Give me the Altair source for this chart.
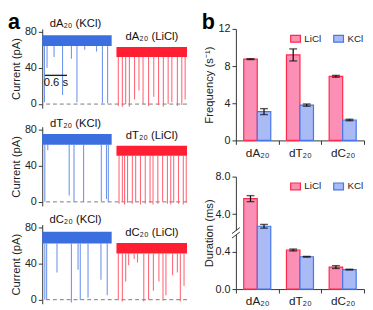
import altair as alt
import pandas as pd

FONT = "Liberation Sans"

# ---------------- panel a : current traces ----------------
X_MAX = 3.92                      # seconds shown
kcl_span = [0.0, 1.88]
licl_span = [2.01, 3.92]
trace_names = ["dA₂₀", "dT₂₀", "dC₂₀"]
kcl_low = [64, 63, 62]
kcl_high = [76, 75, 75]
licl_low = [52, 51, 51]
licl_high = [63, 62, 62.5]

kcl_event_t = [
    [0.06, 0.13, 0.32, 0.55, 0.79, 0.94, 1.15, 1.47, 1.63, 1.77],
    [0.07, 0.15, 0.73, 0.86, 1.12, 1.60, 1.74, 1.79],
    [0.07, 0.12, 0.40, 0.79, 0.97, 1.03, 1.24, 1.59, 1.76],
]
kcl_event_i = [
    [2, 40, 52, 10, 50, 2, 60, 58, 1, 1],
    [0, 57, 7, 0, 0, 1, 3, 0],
    [0, 0, 30, -3, 33, 0, 2, 22, 5],
]
licl_event_t = [
    [2.06, 2.17, 2.26, 2.36, 2.50, 2.62, 2.73, 2.88, 3.02, 3.15, 3.28, 3.41, 3.51, 3.66, 3.78, 3.87],
    [2.08, 2.17, 2.23, 2.31, 2.44, 2.53, 2.66, 2.79, 2.92, 3.00, 3.13, 3.26, 3.39, 3.48, 3.56, 3.69, 3.82, 3.90],
    [2.06, 2.17, 2.26, 2.34, 2.49, 2.58, 2.75, 2.88, 3.01, 3.16, 3.27, 3.35, 3.53, 3.66, 3.74, 3.84],
]
licl_event_i = [
    [-2, -3, 0, -3, 5, 15, 0, -2, 8, -1, -3, 0, 2, -2, -1, 5],
    [-2, 0, -3, -1, -2, 0, -3, -2, -1, -3, -2, 0, -2, -3, -1, -2, -3, -1],
    [0, -2, 20, 38, 45, 41, -2, 0, 10, 20, -1, 5, 27, 30, -2, 15],
]
label_t = [0.90, 2.97]
label_i_kcl = [88.6, 86, 88]
label_i_licl = [73.5, 72.9, 74]
scalebar_t = [0.07, 0.67]
scalebar_i = 31.7
scalebar_text = "0.6 s"

BLUE, BLUE_SPK = "#3b6fe0", "#5f89ea"
RED, RED_SPK = "#ff1e32", "#ff5868"

Y_SCALE = alt.Scale(domain=[-4.5, 83], nice=False, zero=False)
X_SCALE = alt.Scale(domain=[0, X_MAX], nice=False, zero=False)
Y_AXIS = alt.Axis(values=[0, 40, 80], title="Current (pA)", grid=False, tickSize=4,
                  labelFontSize=11, titleFontSize=11.5, titleFontWeight="normal",
                  domainColor="#333", tickColor="#333", labelColor="#222", titleColor="#222",
                  labelPadding=2, titlePadding=3)


def letter(s, y):
    return alt.Chart(pd.DataFrame({"s": [s]})).mark_text(
        fontSize=22, fontWeight="bold", align="left", baseline="alphabetic", color="#000").encode(
        x=alt.value(-35), y=alt.value(y), text="s:N")


def xe(f):
    return alt.X(f"{f}:Q", scale=X_SCALE, axis=None)


def ye(f):
    return alt.Y(f"{f}:Q", scale=Y_SCALE, axis=Y_AXIS)


def trace_chart(k):
    band_df = pd.DataFrame({
        "t0": [kcl_span[0], licl_span[0]], "t1": [kcl_span[1], licl_span[1]],
        "lo": [kcl_low[k], licl_low[k]], "hi": [kcl_high[k], licl_high[k]],
        "c": [BLUE, RED]})
    spk_df = pd.DataFrame({
        "t": kcl_event_t[k] + licl_event_t[k],
        "i": kcl_event_i[k] + licl_event_i[k],
        "base": [kcl_low[k]] * len(kcl_event_t[k]) + [licl_low[k]] * len(licl_event_t[k]),
        "c": [BLUE_SPK] * len(kcl_event_t[k]) + [RED_SPK] * len(licl_event_t[k])})
    lab_df = pd.DataFrame({
        "t": label_t, "i": [label_i_kcl[k], label_i_licl[k]],
        "s": [f"{trace_names[k]} (KCl)", f"{trace_names[k]} (LiCl)"]})
    zero = alt.Chart(pd.DataFrame({"i": [0]})).mark_rule(
        color="#7a7a7a", strokeDash=[4, 3], strokeWidth=1).encode(y=ye("i"))
    band = alt.Chart(band_df).mark_rect().encode(
        x=xe("t0"), x2="t1:Q", y=ye("lo"), y2="hi:Q", color=alt.Color("c:N", scale=None))
    spikes = alt.Chart(spk_df).mark_rule(strokeWidth=1.1, opacity=0.9).encode(
        x=xe("t"), y=ye("base"), y2="i:Q", color=alt.Color("c:N", scale=None))
    labels = alt.Chart(lab_df).mark_text(fontSize=11.5, color="#111").encode(
        x=xe("t"), y=ye("i"), text="s:N")
    layers = [zero, band, spikes, labels]
    if k == 0:
        sb = alt.Chart(pd.DataFrame({"t0": [scalebar_t[0]], "t1": [scalebar_t[1]], "i": [scalebar_i]})).mark_rule(
            color="#222", strokeWidth=1.4).encode(x=xe("t0"), x2="t1:Q", y=ye("i"))
        sbt = alt.Chart(pd.DataFrame({"t": [(scalebar_t[0] + scalebar_t[1]) / 2], "i": [scalebar_i - 9],
                                      "s": [scalebar_text]})).mark_text(fontSize=11.5, color="#111").encode(
            x=xe("t"), y=ye("i"), text="s:N")
        layers += [sb, sbt, letter("a", 0)]
    return alt.layer(*layers).properties(width=148, height=81)


# ---------------- panel b : bar charts ----------------
cats = ["dA₂₀", "dT₂₀", "dC₂₀"]
series = ["LiCl", "KCl"]
freq_licl = [8.75, 9.2, 6.9]
freq_licl_err = [0.05, 0.65, 0.1]
freq_kcl = [3.1, 3.8, 2.2]
freq_kcl_err = [0.32, 0.12, 0.08]
dur_licl = [5.65, 0.417, 0.235]
dur_licl_err = [0.32, 0.01, 0.015]
dur_kcl = [2.7, 0.345, 0.208]
dur_kcl_err = [0.2, 0.004, 0.004]
dur_tick_labels = ["0.0", "0.4", "4.0", "8.0"]

FILLS = ["#fb8fb5", "#a9baf4"]
STROKES = ["#ff2a4a", "#4576ea"]


def broken(v):  # 0-0.6 and 2-8 segments of the broken duration axis
    return v / 0.4 if v <= 0.6 else 1.5 + (v - 2) / 4


def bar_df(vl, el, vk, ek, f=lambda v: v):
    rows = []
    for c, a, ea, b, eb in zip(cats, vl, el, vk, ek):
        rows.append({"cat": c, "series": "LiCl", "v": f(a), "lo": f(a - ea), "hi": f(a + ea)})
        rows.append({"cat": c, "series": "KCl", "v": f(b), "lo": f(b - eb), "hi": f(b + eb)})
    return pd.DataFrame(rows)


def bar_chart(df, ytitle, yvals, ydomain, label_expr=None, breakmark=False, title_pad=4):
    ax_kw = dict(values=yvals, title=ytitle, grid=False, tickSize=4, labelFontSize=11,
                 titleFontSize=11.5, titleFontWeight="normal", domainColor="#333",
                 tickColor="#333", labelColor="#222", titleColor="#222", labelPadding=2,
                 titlePadding=title_pad)
    if label_expr:
        ax_kw["labelExpr"] = label_expr
    yscale = alt.Scale(domain=ydomain, nice=False, zero=False)

    def ye2(f):
        return alt.Y(f"{f}:Q", scale=yscale, axis=alt.Axis(**ax_kw))

    x = alt.X("cat:N", sort=cats, scale=alt.Scale(paddingInner=0, paddingOuter=0),
              axis=alt.Axis(title=None, labelAngle=0, tickBand="extent", tickSize=4, labelFontSize=12,
                            labelPadding=3, domainColor="#333", tickColor="#333", labelColor="#222"))
    xo = alt.XOffset("series:N", sort=series, scale=alt.Scale(paddingInner=0, paddingOuter=0.58))
    leg = alt.Legend(title=None, orient="none", legendX=55, legendY=4, direction="horizontal",
                     symbolType="M-1,-0.7H1V0.7H-1Z", symbolSize=100, symbolStrokeWidth=1.2,
                     labelFontSize=10, labelOffset=3, columnPadding=9, padding=0, labelColor="#222")
    bars = alt.Chart(df).mark_bar(strokeWidth=1.2).encode(
        x=x, xOffset=xo, y=ye2("v"),
        fill=alt.Fill("series:N", sort=series, scale=alt.Scale(domain=series, range=FILLS), legend=leg),
        stroke=alt.Stroke("series:N", sort=series, scale=alt.Scale(domain=series, range=STROKES), legend=leg))
    err = alt.Chart(df).mark_rule(color="#111", strokeWidth=1.3).encode(
        x=x, xOffset=xo, y=ye2("lo"), y2="hi:Q")
    cap_hi = alt.Chart(df).mark_tick(color="#111", size=8, thickness=1.4, orient="horizontal").encode(
        x=x, xOffset=xo, y=ye2("hi"))
    cap_lo = alt.Chart(df).mark_tick(color="#111", size=8, thickness=1.4, orient="horizontal").encode(
        x=x, xOffset=xo, y=ye2("lo"))
    layers = [bars, err, cap_hi, cap_lo]
    if breakmark:
        gap = alt.Chart(pd.DataFrame({"lo": [1.44], "hi": [1.56]})).mark_rect(color="white").encode(
            x=alt.value(-2), x2=alt.value(2), y=ye2("lo"), y2="hi:Q")
        slash = alt.Chart(pd.DataFrame({"lo": [1.36, 1.48], "hi": [1.52, 1.64]})).mark_rule(
            color="#333", strokeWidth=1).encode(
            x=alt.value(-4), x2=alt.value(4), y=ye2("lo"), y2="hi:Q")
        layers += [gap, slash]
    return layers


freq_layers = bar_chart(bar_df(freq_licl, freq_licl_err, freq_kcl, freq_kcl_err),
                        "Frequency (s⁻¹)", [0, 4, 8, 12], [0, 12])
freq = alt.layer(*freq_layers, letter("b", 0)).properties(width=131, height=114)

expr = " : ".join(f"datum.value == {i} ? '{s}'" for i, s in enumerate(dur_tick_labels)) + " : ''"
dur_layers = bar_chart(bar_df(dur_licl, dur_licl_err, dur_kcl, dur_kcl_err, broken),
                       "Duration (ms)", [0, 1, 2, 3], [0, 3], label_expr=expr, breakmark=True,
                       title_pad=1)
dur = alt.layer(*dur_layers).properties(width=131, height=115)

left = alt.vconcat(trace_chart(0), trace_chart(1), trace_chart(2), spacing=19, bounds="flush")
right = alt.vconcat(freq, dur, spacing=37, bounds="flush").resolve_scale(fill="independent", stroke="independent")
chart = alt.hconcat(left, right, spacing=14).properties(padding=0).configure(
    font=FONT).configure_view(stroke=None)

chart.save("out.html", embed_options={"renderer": "svg", "actions": False})
